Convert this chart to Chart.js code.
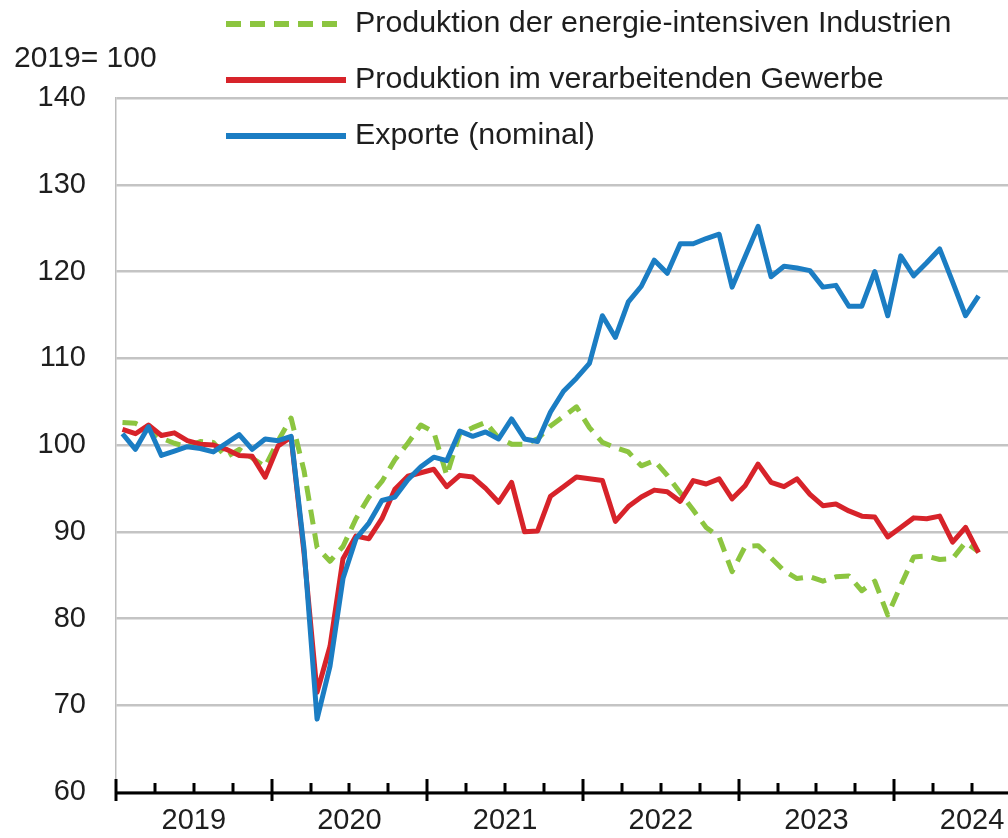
<!DOCTYPE html>
<html>
<head>
<meta charset="utf-8">
<script src="https://cdn.jsdelivr.net/npm/chart.js@4.4.1/dist/chart.umd.min.js"></script>
<style>
html,body{margin:0;padding:0;background:#fff;}
#wrap{width:1008px;height:838px;position:relative;}
</style>
</head>
<body>
<div id="wrap"><canvas id="c" width="1008" height="838"></canvas></div>
<script>
// Monthly data, Jan 2019 .. Jul 2024 (index 2019 = 100)
const years = ['2019','2020','2021','2022','2023','2024'];
const yTicks = [60,70,80,90,100,110,120,130,140];
const unitLabel = '2019= 100';

const energyIntensive = [
 102.6,102.5,101.8,100.8,100.2,99.8,100.4,100.3,98.6,99.5,98.5,97.5,
 100.5,103.1,97.0,88.2,86.6,88.3,91.5,94.0,95.8,98.3,100.2,102.3,
 101.5,96.5,101.3,102.0,102.6,100.8,100.1,100.1,100.7,102.2,103.3,104.4,
 102.0,100.3,99.7,99.2,97.6,98.2,96.5,94.5,92.5,90.5,89.4,85.4,
 88.3,88.4,87.0,85.5,84.6,84.8,84.3,84.8,84.9,83.2,84.3,80.4,
 83.8,87.1,87.2,86.8,86.9,88.8,87.7
];
const manufacturing = [
 101.8,101.3,102.3,101.1,101.4,100.5,100.1,100.0,99.5,98.8,98.7,96.3,
 99.9,100.9,87.5,71.5,76.8,86.9,89.5,89.2,91.5,94.9,96.4,96.8,
 97.2,95.2,96.5,96.3,95.0,93.4,95.7,90.0,90.1,94.1,95.2,96.3,
 96.1,95.9,91.2,92.9,94.0,94.8,94.6,93.5,95.9,95.5,96.1,93.8,
 95.3,97.8,95.7,95.2,96.1,94.3,93.0,93.2,92.4,91.8,91.7,89.4,
 90.5,91.6,91.5,91.8,88.8,90.5,87.6
];
const exportsNominal = [
 101.3,99.5,102.1,98.8,99.3,99.8,99.6,99.2,100.2,101.2,99.5,100.7,
 100.5,101.0,88.0,68.4,74.5,84.6,89.2,91.0,93.6,94.0,96.0,97.5,
 98.6,98.2,101.6,101.0,101.5,100.7,103.0,100.7,100.4,103.8,106.2,107.7,
 109.4,114.9,112.4,116.5,118.3,121.3,119.8,123.2,123.2,123.8,124.3,118.2,
 121.7,125.2,119.4,120.6,120.4,120.1,118.2,118.4,116.0,116.0,120.0,114.9,
 121.8,119.5,121.0,122.6,118.8,114.9,117.2
];
const seriesLabels = [
 'Produktion der energie-intensiven Industrien',
 'Produktion im verarbeitenden Gewerbe',
 'Exporte (nominal)'
];

const FONT = '"Liberation Sans", Arial, sans-serif';
const TXT = '#1e1e1e';
const toXY = arr => arr.map((v,i)=>({x:i+0.5,y:v}));

const legendPlugin = {
  id:'customLegend',
  afterDraw(chart){
    const ctx = chart.ctx;
    ctx.save();
    ctx.font = '30px ' + FONT;
    ctx.fillStyle = TXT;
    ctx.textBaseline = 'middle';
    ctx.textAlign = 'left';
    ctx.fillText(unitLabel, 14, 59);
    const rows = [24, 80, 136];
    chart.data.datasets.forEach((ds,i)=>{
      const y = rows[i];
      ctx.beginPath();
      ctx.strokeStyle = ds.borderColor;
      ctx.lineWidth = 6;
      ctx.setLineDash(ds.borderDash || []);
      ctx.lineCap = 'butt';
      ctx.moveTo(226, y);
      ctx.lineTo(346, y);
      ctx.stroke();
      ctx.setLineDash([]);
      ctx.fillStyle = TXT;
      ctx.font = '30.4px ' + FONT;
      ctx.fillText(ds.label, 355, y);
    });
    ctx.restore();
  }
};

const axisTicksPlugin = {
  id:'axisTicks',
  afterDraw(chart){
    const xs = chart.scales.x;
    const ctx = chart.ctx;
    const yAx = chart.chartArea.bottom + 1;
    ctx.save();
    ctx.strokeStyle = '#000';
    ctx.lineWidth = 3;
    ctx.beginPath();
    ctx.moveTo(chart.chartArea.left - 1, yAx);
    ctx.lineTo(chart.width, yAx);
    ctx.stroke();
    for(let m=0; m<=xs.max; m+=3){
      const px = Math.round(xs.getPixelForValue(m));
      ctx.beginPath();
      if(m % 12 === 0){ ctx.moveTo(px, yAx-14); ctx.lineTo(px, yAx+8); }
      else { ctx.moveTo(px, yAx-10); ctx.lineTo(px, yAx); }
      ctx.stroke();
    }
    ctx.restore();
  }
};

new Chart(document.getElementById('c'), {
  type:'line',
  data:{
    datasets:[
      {label:seriesLabels[0], data:toXY(energyIntensive), borderColor:'#8cc540', borderWidth:5, borderDash:[15,9], order:3},
      {label:seriesLabels[1], data:toXY(manufacturing), borderColor:'#d7232a', borderWidth:5, order:2},
      {label:seriesLabels[2], data:toXY(exportsNominal), borderColor:'#1b7dc3', borderWidth:5, order:1}
    ]
  },
  options:{
    responsive:false,
    animation:false,
    devicePixelRatio:1,
    layout:{padding:{top:98,left:0,right:0,bottom:0}},
    elements:{point:{radius:0}, line:{tension:0, borderJoinStyle:'round', borderCapStyle:'butt'}},
    plugins:{legend:{display:false}, tooltip:{enabled:false}},
    scales:{
      x:{
        type:'linear', min:0, max:68.77,
        grid:{display:false, drawTicks:false},
        border:{display:false},
        afterBuildTicks(scale){ scale.ticks = years.map((y,i)=>({value:i*12+6})); },
        afterFit(scale){ scale.height = 46; scale.paddingLeft = 0; scale.paddingRight = 0; },
        ticks:{
          autoSkip:false, maxRotation:0, padding:12,
          font:{family:FONT, size:29}, color:TXT,
          callback(v){ const k=(v-6)/12; return years[k] !== undefined ? years[k] : ''; }
        }
      },
      y:{
        min:60, max:140,
        afterBuildTicks(scale){ scale.ticks = yTicks.map(v=>({value:v})); },
        afterFit(scale){ scale.width = 116; scale.paddingTop = 0; scale.paddingBottom = 0; },
        grid:{color:'#c4c4c4', lineWidth:2.5, drawTicks:false},
        border:{display:true, color:'#bdbdbd', width:1.5},
        ticks:{padding:30, font:{family:FONT, size:29}, color:TXT}
      }
    }
  },
  plugins:[legendPlugin, axisTicksPlugin]
});
</script>
</body>
</html>
